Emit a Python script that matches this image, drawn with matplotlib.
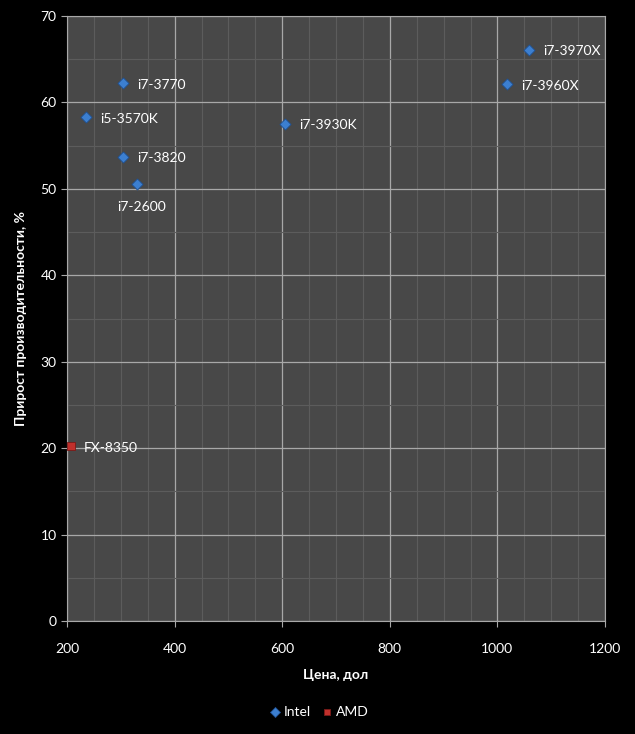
import matplotlib
matplotlib.use("Agg")
import matplotlib.pyplot as plt
from matplotlib.ticker import MultipleLocator

plt.rcParams['font.family'] = ['Lato', 'DejaVu Sans']

# данные
intel_names = ['i7-3770', 'i5-3570K', 'i7-3820', 'i7-2600', 'i7-3930K', 'i7-3970X', 'i7-3960X']
intel_price = [304, 235, 304, 330, 605, 1059, 1018]
intel_gain = [62.2, 58.3, 53.7, 50.6, 57.5, 66.1, 62.1]

amd_names = ['FX-8350']
amd_price = [207]
amd_gain = [20.2]

fig = plt.figure(figsize=(6.35, 7.34), dpi=100, facecolor='black')
ax = fig.add_axes([67 / 635, 1 - 621 / 734, 538 / 635, 605 / 734])
ax.set_facecolor('#484848')

ax.set_xlim(200, 1200)
ax.set_ylim(0, 70)
ax.xaxis.set_major_locator(MultipleLocator(200))
ax.xaxis.set_minor_locator(MultipleLocator(50))
ax.yaxis.set_major_locator(MultipleLocator(10))
ax.yaxis.set_minor_locator(MultipleLocator(5))

ax.grid(which='minor', color='#5c5c5c', linewidth=0.8)
ax.grid(which='major', color='#a8a8a8', linewidth=0.9)
ax.set_axisbelow(True)

for side in ['left', 'bottom', 'right', 'top']:
    ax.spines[side].set_color('#a8a8a8')
ax.tick_params(which='major', colors='#a8a8a8', labelcolor='white', labelsize=10, length=4)
ax.tick_params(which='minor', length=0)
ax.tick_params(axis='x', pad=12)

ax.scatter(intel_price, intel_gain, marker='D', s=32, color='#3c7fd0',
           edgecolors='#1f4f8f', linewidths=0.6, zorder=3, label='Intel')
ax.scatter(amd_price, amd_gain, marker='s', s=30, color='#c0302c',
           edgecolors='#7a1a18', linewidths=0.6, zorder=3, label='AMD')

# подписи точек
for name, x, y in zip(intel_names, intel_price, intel_gain):
    if name == 'i7-2600':
        ax.annotate(name, (x, y), xytext=(-14, -17), textcoords='offset points',
                    color='white', fontsize=10, va='center', ha='left')
    else:
        ax.annotate(name, (x, y), xytext=(10, -1), textcoords='offset points',
                    color='white', fontsize=10, va='center', ha='left')
for name, x, y in zip(amd_names, amd_price, amd_gain):
    ax.annotate(name, (x, y), xytext=(9, -1), textcoords='offset points',
                color='white', fontsize=10, va='center', ha='left')

ax.set_xlabel('Цена, дол', color='white', fontsize=10, fontweight='bold', labelpad=10)
ax.set_ylabel('Прирост производительности, %', color='white', fontsize=10,
              fontweight='bold', labelpad=10)

leg = fig.legend(loc='center', bbox_to_anchor=(319 / 635, 1 - 712 / 734), ncol=2,
                 frameon=False, fontsize=10, handletextpad=0.25, columnspacing=0.7,
                 handlelength=0.8, markerscale=0.9)
for t in leg.get_texts():
    t.set_color('white')

fig.savefig('out.png', dpi=100, facecolor='black')
